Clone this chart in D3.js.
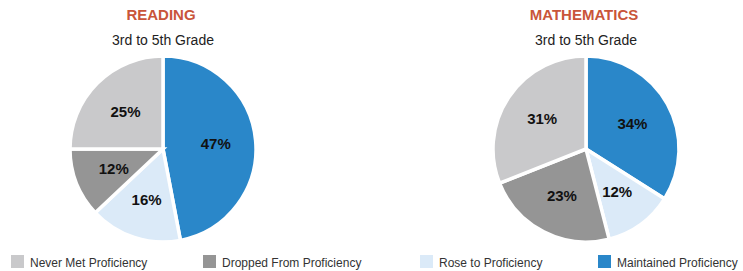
<!DOCTYPE html>
<html>
<head>
<meta charset="utf-8">
<script src="https://cdn.jsdelivr.net/npm/d3@7"></script>
<style>
  body { margin: 0; background: #fff; }
  svg { display: block; }
</style>
</head>
<body>
<svg id="chart"></svg>
<script>
// categories in clockwise order from 12 o'clock
var categories = ["Maintained Proficiency", "Rose to Proficiency", "Dropped From Proficiency", "Never Met Proficiency"];
var readingValues = [47, 16, 12, 25];
var mathValues = [34, 12, 23, 31];
var legendOrder = ["Never Met Proficiency", "Dropped From Proficiency", "Rose to Proficiency", "Maintained Proficiency"];
var subtitle = "3rd to 5th Grade";

var width = 743, height = 271;

var svg = d3.select("#chart")
  .attr("width", width)
  .attr("height", height);

var color = d3.scaleOrdinal()
  .domain(categories)
  .range(["#2a87c9", "#dbeaf8", "#959595", "#c9c9cb"]);

var radius = 93;

// Draw one pie with its titles
function drawPie(title, values, cx){
  var data = categories.map(function(c, i){ return {cat: c, value: values[i]}; });

  var pie = d3.pie()
    .sort(null)
    .value(function(d){ return d.value; });

  var arc = d3.arc().innerRadius(0).outerRadius(radius);
  var labelArc = d3.arc().innerRadius(53).outerRadius(53);

  svg.append("text")
    .attr("x", cx - 2)
    .attr("y", 20)
    .attr("text-anchor", "middle")
    .style("font-family", "'Liberation Sans Narrow', 'Liberation Sans', Arial, sans-serif")
    .style("font-weight", "bold")
    .style("font-size", "15px")
    .style("fill", "#c9553a")
    .text(title);

  svg.append("text")
    .attr("x", cx)
    .attr("y", 45)
    .attr("text-anchor", "middle")
    .style("font-family", "'Liberation Sans', Arial, sans-serif")
    .style("font-size", "14px")
    .style("fill", "#222")
    .text(subtitle);

  var g = svg.append("g")
    .attr("transform", "translate(" + cx + ",149)");

  g.selectAll("path")
    .data(pie(data))
    .enter()
    .append("path")
    .attr("d", arc)
    .attr("fill", function(d){ return color(d.data.cat); })
    .attr("stroke", "#fff")
    .attr("stroke-width", 3.5)
    .attr("stroke-linejoin", "miter");

  g.selectAll("text")
    .data(pie(data))
    .enter()
    .append("text")
    .attr("transform", function(d){ return "translate(" + labelArc.centroid(d) + ")"; })
    .attr("dy", "0.35em")
    .attr("text-anchor", "middle")
    .style("font-family", "'Liberation Sans', Arial, sans-serif")
    .style("font-weight", "bold")
    .style("font-size", "15px")
    .style("fill", "#111")
    .text(function(d){ return d.data.value + "%"; });
}

drawPie("READING", readingValues, 163);
drawPie("MATHEMATICS", mathValues, 586);

// Legend along the bottom
var legendX = d3.scalePoint()
  .domain(legendOrder)
  .range([11, 598]);

var legend = svg.selectAll(".legend")
  .data(legendOrder)
  .enter()
  .append("g")
  .attr("class", "legend")
  .attr("transform", function(d){
    var x = legendX(d);
    if (d == "Dropped From Proficiency") x = 203;
    if (d == "Rose to Proficiency") x = 420;
    return "translate(" + x + ",255)";
  });

legend.append("rect")
  .attr("width", 13)
  .attr("height", 13)
  .attr("fill", function(d){ return color(d); });

legend.append("text")
  .attr("x", 19)
  .attr("y", 12)
  .style("font-family", "'Liberation Sans', Arial, sans-serif")
  .style("font-size", "12px")
  .style("fill", "#333")
  .text(function(d){ return d; });
</script>
</body>
</html>
